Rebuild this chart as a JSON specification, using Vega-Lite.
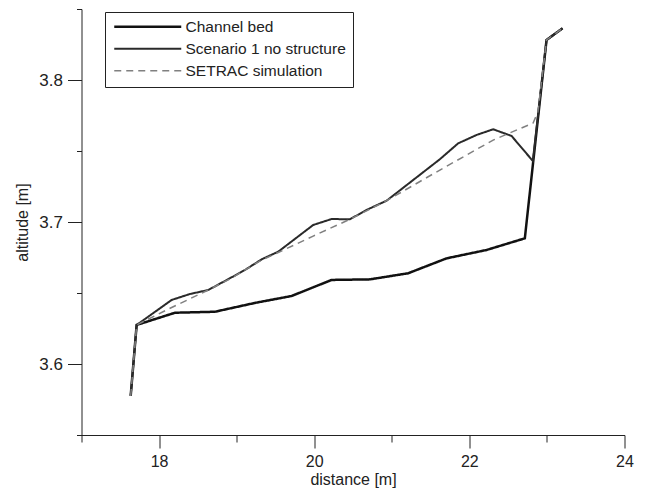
{
  "$schema": "https://vega.github.io/schema/vega-lite/v6.json",
  "width": 543,
  "height": 426,
  "autosize": {"type": "none"},
  "padding": {"left": 81.5, "top": 9, "right": 21.5, "bottom": 59},
  "background": "white",
  "config": {
    "view": {"stroke": null},
    "font": "Liberation Sans"
  },
  "data": {
    "values": [
      {"series": "Channel bed", "x": 17.634, "y": 3.5775},
      {"series": "Channel bed", "x": 17.711, "y": 3.6275},
      {"series": "Channel bed", "x": 18.205, "y": 3.6361},
      {"series": "Channel bed", "x": 18.72, "y": 3.6368},
      {"series": "Channel bed", "x": 19.235, "y": 3.643},
      {"series": "Channel bed", "x": 19.709, "y": 3.6479},
      {"series": "Channel bed", "x": 20.224, "y": 3.6592},
      {"series": "Channel bed", "x": 20.718, "y": 3.6596},
      {"series": "Channel bed", "x": 21.211, "y": 3.6639},
      {"series": "Channel bed", "x": 21.706, "y": 3.6744},
      {"series": "Channel bed", "x": 22.222, "y": 3.6803},
      {"series": "Channel bed", "x": 22.715, "y": 3.6885},
      {"series": "Channel bed", "x": 22.995, "y": 3.8282},
      {"series": "Channel bed", "x": 23.201, "y": 3.8364},

      {"series": "Scenario 1 no structure", "x": 17.634, "y": 3.5775},
      {"series": "Scenario 1 no structure", "x": 17.711, "y": 3.6275},
      {"series": "Scenario 1 no structure", "x": 18.162, "y": 3.6451},
      {"series": "Scenario 1 no structure", "x": 18.398, "y": 3.6493},
      {"series": "Scenario 1 no structure", "x": 18.634, "y": 3.6521},
      {"series": "Scenario 1 no structure", "x": 18.914, "y": 3.6604},
      {"series": "Scenario 1 no structure", "x": 19.107, "y": 3.6662},
      {"series": "Scenario 1 no structure", "x": 19.322, "y": 3.6737},
      {"series": "Scenario 1 no structure", "x": 19.536, "y": 3.6791},
      {"series": "Scenario 1 no structure", "x": 19.987, "y": 3.6979},
      {"series": "Scenario 1 no structure", "x": 20.224, "y": 3.7021},
      {"series": "Scenario 1 no structure", "x": 20.46, "y": 3.7019},
      {"series": "Scenario 1 no structure", "x": 20.675, "y": 3.7085},
      {"series": "Scenario 1 no structure", "x": 20.933, "y": 3.715},
      {"series": "Scenario 1 no structure", "x": 21.62, "y": 3.7442},
      {"series": "Scenario 1 no structure", "x": 21.856, "y": 3.7554},
      {"series": "Scenario 1 no structure", "x": 22.093, "y": 3.7613},
      {"series": "Scenario 1 no structure", "x": 22.307, "y": 3.7653},
      {"series": "Scenario 1 no structure", "x": 22.544, "y": 3.7606},
      {"series": "Scenario 1 no structure", "x": 22.818, "y": 3.743},
      {"series": "Scenario 1 no structure", "x": 22.995, "y": 3.8282},
      {"series": "Scenario 1 no structure", "x": 23.201, "y": 3.8364},

      {"series": "SETRAC simulation", "x": 17.634, "y": 3.5775},
      {"series": "SETRAC simulation", "x": 17.711, "y": 3.6275},
      {"series": "SETRAC simulation", "x": 18.162, "y": 3.6398},
      {"series": "SETRAC simulation", "x": 18.634, "y": 3.6521},
      {"series": "SETRAC simulation", "x": 18.914, "y": 3.6599},
      {"series": "SETRAC simulation", "x": 19.322, "y": 3.6732},
      {"series": "SETRAC simulation", "x": 19.536, "y": 3.6785},
      {"series": "SETRAC simulation", "x": 19.987, "y": 3.6901},
      {"series": "SETRAC simulation", "x": 20.46, "y": 3.7019},
      {"series": "SETRAC simulation", "x": 20.933, "y": 3.715},
      {"series": "SETRAC simulation", "x": 21.62, "y": 3.7366},
      {"series": "SETRAC simulation", "x": 22.307, "y": 3.7577},
      {"series": "SETRAC simulation", "x": 22.822, "y": 3.7697},
      {"series": "SETRAC simulation", "x": 22.883, "y": 3.7775},
      {"series": "SETRAC simulation", "x": 22.995, "y": 3.8282},
      {"series": "SETRAC simulation", "x": 23.201, "y": 3.8364}
    ]
  },
  "mark": {"type": "line", "strokeJoin": "miter", "strokeCap": "butt"},
  "encoding": {
    "x": {
      "field": "x", "type": "quantitative",
      "scale": {"domain": [17, 24], "nice": false, "zero": false},
      "axis": {
        "title": "distance [m]",
        "values": [17, 18, 19, 20, 21, 22, 23, 24],
        "labelExpr": "datum.value % 2 === 0 ? datum.label : ''",
        "grid": false,
        "domainColor": "#222",
        "tickColor": "#222",
        "tickSize": {"condition": {"test": "datum.value % 2 === 0", "value": 13}, "value": 7},
        "labelPadding": 5,
        "labelFontSize": 16,
        "labelColor": "#222",
        "labelFlush": false,
        "titleFontSize": 16,
        "titleFontWeight": "normal",
        "titleColor": "#222",
        "titlePadding": 2
      }
    },
    "y": {
      "field": "y", "type": "quantitative",
      "scale": {"domain": [3.55, 3.85], "nice": false, "zero": false},
      "axis": {
        "title": "altitude [m]",
        "values": [3.55, 3.6, 3.65, 3.7, 3.75, 3.8, 3.85],
        "labelExpr": "abs(datum.value * 10 - round(datum.value * 10)) < 0.001 ? format(datum.value, '.1f') : ''",
        "grid": false,
        "domainColor": "#222",
        "tickColor": "#222",
        "tickSize": {"condition": {"test": "abs(datum.value * 10 - round(datum.value * 10)) < 0.001", "value": 14}, "value": 5},
        "labelPadding": 5,
        "labelFontSize": 17,
        "labelColor": "#222",
        "labelFlush": false,
        "titleFontSize": 16,
        "titleFontWeight": "normal",
        "titleColor": "#222",
        "titlePadding": 8
      }
    },
    "color": {
      "field": "series", "type": "nominal",
      "scale": {
        "domain": ["Channel bed", "Scenario 1 no structure", "SETRAC simulation"],
        "range": ["#111111", "#2a2a2a", "#808080"]
      },
      "legend": {
        "title": null,
        "orient": "none",
        "legendX": 23.5,
        "legendY": 3,
        "padding": 7,
        "strokeColor": "#222",
        "fillColor": "white",
        "symbolType": "M-6,0H6",
        "symbolSize": 124.7,
        "symbolOffset": 28,
        "labelFontSize": 15.5,
        "labelColor": "#222",
        "labelOffset": 30,
        "rowPadding": 5,
        "labelLimit": 300
      }
    },
    "strokeDash": {
      "field": "series", "type": "nominal",
      "scale": {
        "domain": ["Channel bed", "Scenario 1 no structure", "SETRAC simulation"],
        "range": [[1, 0], [1, 0], [7, 5]]
      },
      "legend": {"title": null}
    },
    "strokeWidth": {
      "field": "series", "type": "nominal",
      "scale": {
        "domain": ["Channel bed", "Scenario 1 no structure", "SETRAC simulation"],
        "range": [2.5, 1.5, 2]
      },
      "legend": {"title": null}
    }
  }
}
